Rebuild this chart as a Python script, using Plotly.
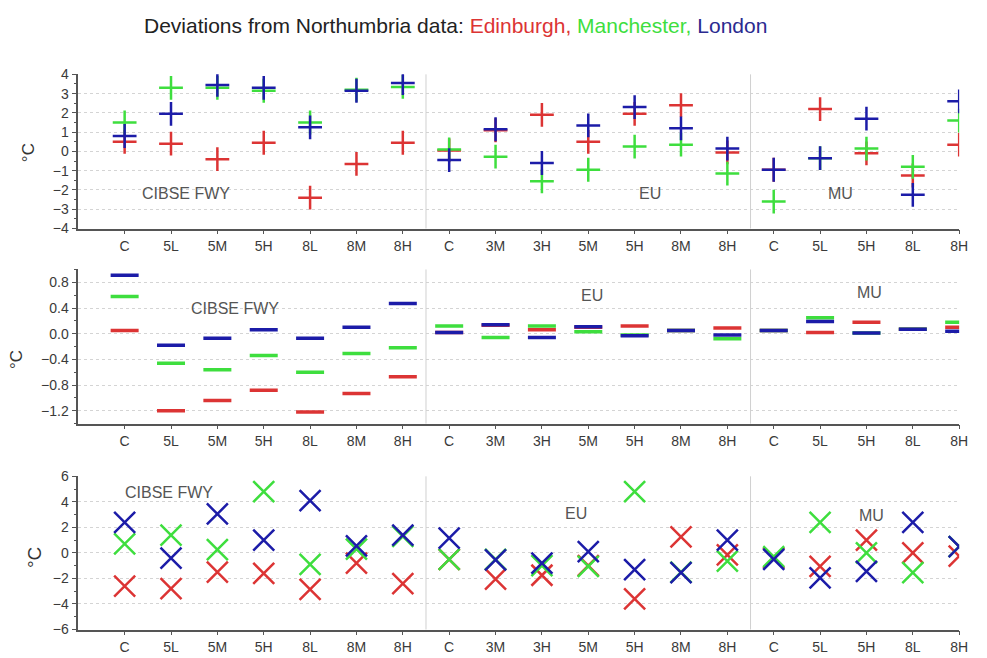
import plotly.graph_objects as go

categories = ["C", "5L", "5M", "5H", "8L", "8M", "8H",
              "C", "3M", "3H", "5M", "5H", "8M", "8H",
              "C", "5L", "5H", "8L", "8H"]

# Panel 1 (+ markers)
edin_top = [0.5, 0.4, -0.4, 0.45, -2.4, -0.65, 0.45, 0.05, 1.1, 1.9, 0.5, 1.95, 2.4, -0.05, -0.95, 2.2, -0.1, -1.25, 0.35]
manc_top = [1.5, 3.3, 3.3, 3.15, 1.5, 3.2, 3.35, 0.1, -0.27, -1.55, -0.95, 0.25, 0.35, -1.15, -2.6, -0.35, 0.15, -0.8, 1.6]
lond_top = [0.8, 1.95, 3.45, 3.3, 1.25, 3.15, 3.55, -0.45, 1.15, -0.6, 1.35, 2.3, 1.2, 0.15, -0.95, -0.35, 1.7, -2.25, 2.6]

# Panel 2 (- markers)
edin_mid = [0.05, -1.2, -1.04, -0.88, -1.22, -0.93, -0.67, 0.02, 0.13, 0.06, 0.1, 0.12, 0.05, 0.09, 0.05, 0.02, 0.18, 0.07, 0.1]
manc_mid = [0.58, -0.46, -0.56, -0.34, -0.6, -0.31, -0.22, 0.12, -0.06, 0.12, 0.03, -0.02, 0.05, -0.08, 0.05, 0.25, 0.01, 0.07, 0.18]
lond_mid = [0.91, -0.18, -0.07, 0.06, -0.07, 0.1, 0.47, 0.02, 0.14, -0.06, 0.11, -0.03, 0.05, -0.02, 0.05, 0.19, 0.01, 0.07, 0.04]

# Panel 3 (x markers)
edin_bot = [-2.6, -2.8, -1.5, -1.6, -2.85, -0.8, -2.4, -0.5, -2.05, -1.75, -1.0, -3.6, 1.25, -0.15, -0.4, -1.05, 1.0, 0.0, -0.25]
manc_bot = [0.7, 1.4, 0.25, 4.8, -0.9, 0.3, 1.3, -0.5, -0.5, -1.0, -1.05, 4.8, -1.5, -0.65, -0.3, 2.4, 0.0, -1.55, 0.5]
lond_bot = [2.4, -0.4, 3.05, 1.0, 4.1, 0.55, 1.4, 1.15, -0.55, -0.8, 0.1, -1.3, -1.55, 1.0, -0.5, -1.95, -1.45, 2.4, 0.5]

groups = ["CIBSE FWY", "EU", "MU"]
cities = ["Edinburgh", "Manchester", "London"]
RED, GREEN, BLUE = "#dc3434", "#3ede3e", "#1c1ca8"
colors = [RED, GREEN, BLUE]

xs = list(range(len(categories)))

fig = go.Figure()

panels = [
    ("1", [edin_top, manc_top, lond_top], "cross-thin", 17, 2.5),
    ("2", [edin_mid, manc_mid, lond_mid], "line-ew", 20, 3.5),
    ("3", [edin_bot, manc_bot, lond_bot], "x-thin", 21, 2.5),
]
for ax, series, sym, size, lw in panels:
    for name, vals, col in zip(cities, series, colors):
        fig.add_trace(go.Scatter(
            x=xs, y=vals, mode="markers", name=name, showlegend=False,
            xaxis="x" if ax == "1" else "x" + ax,
            yaxis="y" if ax == "1" else "y" + ax,
            marker=dict(symbol=sym, size=size, color=col,
                        line=dict(color=col, width=lw)),
        ))

XDOM = [79 / 987, 968 / 987]
def ydom(top_px, bot_px):
    return [1 - bot_px / 658, 1 - top_px / 658]

AXCOL = "#555555"
TICKFONT = dict(family="Liberation Sans, Arial, sans-serif", size=14, color="#3a3a3a")

def xaxis(anchor):
    return dict(domain=XDOM, anchor=anchor, range=[-1, 18],
                tickmode="array", tickvals=xs, ticktext=categories,
                showgrid=False, zeroline=False, showline=True,
                linecolor=AXCOL, linewidth=1.5, ticks="outside",
                ticklen=4, tickcolor=AXCOL, tickfont=TICKFONT)

def yaxis(anchor, dom, rng, dtick, fmt, minor_dt):
    return dict(domain=dom, anchor=anchor, range=rng, dtick=dtick,
                tick0=0, tickformat=fmt,
                showgrid=True, gridcolor="#d4d4d4", griddash="dot", gridwidth=1,
                zeroline=False, showline=True, linecolor=AXCOL, linewidth=1.5,
                ticks="outside", ticklen=5, tickcolor=AXCOL, tickfont=TICKFONT,
                minor=dict(dtick=minor_dt, ticks="outside", ticklen=3,
                           tickcolor=AXCOL, showgrid=False))

fig.update_layout(
    width=987, height=658,
    margin=dict(l=0, r=0, t=0, b=0),
    paper_bgcolor="white", plot_bgcolor="white",
    xaxis=xaxis("y"),
    xaxis2=xaxis("y2"),
    xaxis3=xaxis("y3"),
    yaxis=yaxis("x", ydom(68, 226), [-4, 4], 1, "d", 0.5),
    yaxis2=yaxis("x2", ydom(268, 426), [-1.4, 1.0], 0.4, ".1f", 0.2),
    yaxis3=yaxis("x3", ydom(480, 637), [-6, 6], 2, "d", 1),
)

# vertical group dividers
for xr, yr in [("x", "y"), ("x2", "y2"), ("x3", "y3")]:
    for xv in (6.5, 13.5):
        fig.add_shape(type="line", xref=xr, yref=yr + " domain",
                      x0=xv, x1=xv, y0=0, y1=1,
                      line=dict(color="#d0d0d0", width=1))

LABFONT = dict(family="Liberation Sans, Arial, sans-serif", size=16, color="#555555")
label_pos = [
    [(188, 190), (656, 190), (848, 190)],
    [(237, 308), (597, 295), (877, 292)],
    [(171, 497), (581, 518), (880, 520)],
]
for row in label_pos:
    for g, (px, py) in zip(groups, row):
        fig.add_annotation(text=g, xref="paper", yref="paper",
                           x=px / 987, y=1 - py / 658, showarrow=False,
                           xanchor="center", yanchor="middle", font=LABFONT)

for px, py, fs in [(29, 148, 17), (16, 360, 17), (35, 563, 19)]:
    fig.add_annotation(text="°C", xref="paper", yref="paper",
                       x=px / 987, y=1 - py / 658, showarrow=False,
                       textangle=-90, xanchor="center", yanchor="middle",
                       font=dict(family="Liberation Sans, Arial, sans-serif",
                                 size=fs, color="#333333"))

title = ("Deviations from Northumbria data: "
         f"<span style='color:{RED}'>{cities[0]},</span> "
         f"<span style='color:{GREEN}'>{cities[1]},</span> "
         f"<span style='color:#2a2a90'>{cities[2]}</span>")
fig.add_annotation(text=title, xref="paper", yref="paper",
                   x=460 / 987, y=1 - 18 / 658, showarrow=False,
                   xanchor="center", yanchor="middle",
                   font=dict(family="Liberation Sans, Arial, sans-serif",
                             size=21, color="#222222"))

fig.write_html("out.html")
